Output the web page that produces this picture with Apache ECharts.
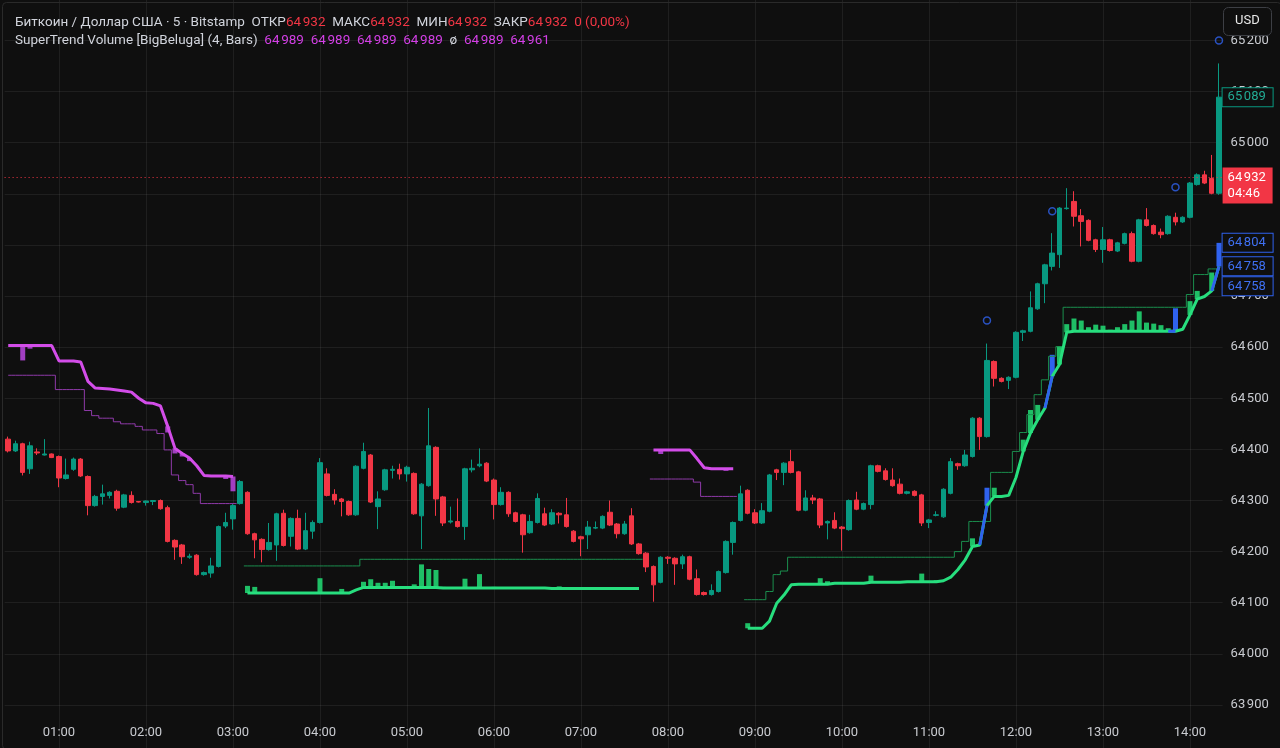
<!DOCTYPE html>
<html><head><meta charset="utf-8">
<script src="https://cdn.jsdelivr.net/npm/echarts@6/dist/echarts.min.js"></script>
<style>html,body{margin:0;padding:0;background:#0f0f0f;width:1280px;height:748px;overflow:hidden;position:relative;}
#c{position:absolute;left:0;top:-11px;width:1280px;height:780px;}</style>
</head><body><div id="c"></div><script>
// ---------- data ----------
const barCount = 168;            // 5-minute bars, first bar 00:25
const firstBarMinutes = 25;
const barMinutes = 5;
const priceTicks = { min: 63800, max: 65300, step: 100 };

const opens = [64420,64397,64411,64362,64395,64389,64391,64386,64343,64361,
64381,64347,64290,64308,64310,64318,64287,64310,64298,64296,
64298,64300,64286,64222,64213,64189,64193,64155,64158,64171,
64250,64264,64294,64316,64235,64224,64204,64213,64275,64230,
64265,64205,64240,64257,64352,64312,64303,64298,64272,64363,
64389,64288,64321,64359,64361,64352,64353,64270,64329,64404,
64307,64258,64259,64249,64360,64368,64373,64340,64292,64316,
64276,64272,64237,64257,64274,64254,64275,64272,64240,64229,
64233,64246,64246,64277,64254,64235,64270,64215,64197,64171,
64140,64189,64187,64176,64190,64147,64120,64116,64122,64159,
64218,64261,64320,64276,64256,64279,64360,64355,64376,64356,
64281,64305,64303,64256,64261,64248,64243,64301,64283,64292,
64368,64358,64340,64332,64314,64318,64311,64257,64271,64268,
64314,64372,64368,64386,64461,64425,64572,64539,64535,64541,
64629,64631,64675,64724,64758,64781,64871,64885,64857,64848,
64810,64791,64810,64788,64803,64822,64768,64849,64838,64825,
64822,64854,64845,64854,64918,64937,64930,64901];
const closes = [64397,64411,64355,64407,64393,64391,64384,64344,64350,64381,
64348,64290,64308,64313,64316,64285,64311,64296,64297,64299,
64300,64284,64220,64209,64190,64191,64155,64159,64172,64249,
64257,64290,64337,64235,64223,64204,64218,64274,64212,64265,
64205,64241,64257,64374,64310,64301,64298,64272,64367,64396,
64297,64303,64360,64361,64352,64365,64274,64332,64407,64303,
64256,64260,64249,64362,64363,64371,64338,64292,64316,64274,
64259,64233,64259,64304,64252,64276,64272,64249,64220,64225,
64248,64247,64269,64252,64235,64254,64215,64196,64170,64135,
64189,64187,64176,64190,64146,64116,64116,64124,64161,64220,
64257,64313,64275,64256,64280,64350,64355,64373,64355,64281,
64305,64301,64252,64259,64246,64245,64300,64283,64294,64368,
64357,64341,64329,64314,64317,64310,64256,64262,64272,64322,
64376,64368,64389,64461,64425,64574,64539,64533,64541,64629,
64632,64677,64724,64761,64784,64872,64872,64856,64846,64809,
64791,64810,64789,64804,64822,64768,64849,64838,64822,64820,
64856,64845,64854,64921,64937,64921,64901,65089];
const lows = [64394,64395,64349,64352,64389,64388,64383,64326,64341,64358,
64346,64271,64288,64292,64304,64280,64285,64294,64296,64290,
64291,64282,64218,64184,64176,64186,64153,64153,64149,64169,
64246,64243,64292,64233,64187,64179,64202,64182,64210,64210,
64203,64203,64225,64255,64308,64292,64269,64270,64270,64361,
64295,64244,64319,64343,64341,64337,64272,64205,64327,64270,
64250,64255,64247,64223,64355,64365,64336,64263,64290,64268,
64257,64198,64235,64255,64250,64252,64255,64247,64218,64191,
64205,64244,64244,64250,64226,64233,64213,64194,64160,64102,
64138,64176,64135,64166,64144,64114,64114,64114,64120,64157,
64194,64259,64273,64254,64254,64277,64340,64330,64353,64279,
64279,64293,64246,64224,64244,64202,64241,64281,64281,64283,
64355,64339,64327,64312,64312,64308,64250,64246,64269,64266,
64312,64360,64366,64384,64399,64423,64523,64531,64518,64539,
64612,64629,64673,64686,64750,64755,64869,64836,64797,64807,
64786,64765,64787,64786,64801,64766,64766,64836,64820,64813,
64820,64838,64843,64852,64916,64919,64899,64898];
const highs = [64425,64417,64413,64415,64402,64420,64392,64388,64382,64384,
64383,64349,64311,64331,64318,64321,64313,64318,64299,64300,
64301,64302,64290,64224,64215,64196,64195,64161,64188,64251,
64276,64293,64340,64318,64237,64226,64256,64276,64282,64267,
64282,64276,64261,64383,64363,64322,64305,64300,64369,64413,
64391,64318,64362,64368,64372,64368,64355,64334,64481,64406,
64309,64288,64304,64364,64380,64402,64375,64343,64326,64318,
64278,64274,64272,64314,64286,64283,64277,64305,64242,64231,
64260,64259,64271,64300,64256,64260,64285,64217,64199,64173,
64191,64191,64189,64194,64192,64165,64122,64136,64163,64222,
64259,64329,64322,64283,64295,64352,64362,64375,64399,64358,
64320,64311,64305,64261,64277,64250,64302,64317,64296,64370,
64370,64363,64363,64343,64319,64320,64313,64264,64279,64324,
64383,64374,64399,64463,64463,64607,64574,64541,64543,64631,
64634,64709,64726,64763,64823,64874,64911,64905,64870,64850,
64812,64835,64812,64806,64824,64826,64851,64872,64840,64832,
64858,64863,64856,64923,64940,64945,64976,65155];

// SuperTrend (bearish, purple): thick line + thin band, by segment [first bar number, values]
const bearLine1Start = 1;
const bearLine1 = [64603,64603,64603,64603,64603,64603,64603,64573,64573,64573,
64571,64533,64520,64519,64518,64516,64514,64512,64500,64491,
64490,64485,64445,64402,64392,64383,64368,64349,64348,64348,64348,64347];
const bearBand1 = [64545,64545,64545,64545,64545,64545,64545,64517,64517,64517,
64517,64476,64466,64461,64461,64454,64450,64450,64445,64438,
64438,64431,64399,64350,64339,64331,64314,64294,64294,64294,64294,64294];
const bearLine2Start = 90;
const bearLine2 = [64399,64399,64399,64399,64399,64399,64382,64364,64362,64362,64362,64362];
const bearBand2 = [64342,64342,64342,64342,64342,64342,64336,64308,64308,64308,64308,64308];

// SuperTrend (bullish, green)
const bullLine1Start = 34;
const bullLine1 = [64119,64119,64119,64119,64119,64119,64119,64119,64119,64119,64119,64119,64119,64119,64119,
64125,64130,64130,64130,64130,64130,64130,64130,64130,64130,64130,64130,
64129,64129,64129,64129,64129,64129,64129,64129,64129,64129,64129,64129,64129,64129,64129,
64128,64128,64128,64128,64128,64128,64128,64128,64128,64128,64128,64128,64128];
const bullBand1 = [64172,64172,64172,64172,64172,64172,64172,64172,64172,64172,64172,64172,64172,64172,64172,64172,
64185,64185,64185,64185,64185,64185,64185,64185,64185,64185,64185,64185,64185,64185,64185,64185,64185,64185,64185,64185,
64185,64185,64185,64185,64185,64185,64185,64185,64185,64185,64185,64185,64185,64185,64185,64185,64185,64185,64185];
const bullLine2Start = 103;
const bullLine2 = [64050,64050,64050,64064,64099,64115,64135,64136,
64136,64136,64136,64136,64138,64138,64138,64138,64138,64140,
64140,64140,64140,64140,64141,64141,64141,64141,64141,64143,
64150,64165,64184,64210,64213,64290,64308,64308,64310,64345,
64396,64432,64458,64481,64543,64566,64629,64631,64631,64631,
64631,64631,64631,64631,64631,64631,64631,64631,64631,64631,
64631,64631,64635,64663,64694,64699,64710,64758];
const bullBand2 = [64106,64106,64106,64122,64155,64162,64189,64189,
64189,64189,64189,64189,64189,64189,64189,64189,64189,64189,
64189,64189,64189,64189,64189,64189,64189,64189,64189,64189,
64189,64200,64220,64259,64259,64259,64355,64355,64355,64396,
64433,64468,64507,64536,64582,64601,64678,64678,64678,64678,
64678,64678,64678,64678,64678,64678,64678,64678,64678,64678,
64678,64678,64678,64703,64742,64742,64753,64753];

// volume bars drawn from the trend line: [bar number, size in price units]
const bullVolBars = [[34,14],[35,12],[42,2],[44,29],[45,2],[47,8],[50,11],[51,16],[52,9],[53,9],[54,13],[55,2],[56,2],[57,6],
[58,45],[59,36],[60,34],[61,2],[64,18],[66,27],[68,2],[77,4],
[103,10],[113,12],[114,6],[120,13],[127,16],[129,3],[134,16],[136,35],[137,17],[141,23],[142,45],[143,29],[145,42],[146,36],
[147,16],[148,25],[149,21],[150,8],[151,13],[152,11],[153,3],[154,8],[155,14],[156,21],[157,39],[158,17],[159,15],[160,12],
[161,6],[162,45],[164,27],[165,16],[167,36],[168,46]];
const bearVolBars = [[3,29],[4,6],[23,12],[24,10],[25,6],[26,6],[31,6],[32,29],[91,8],[100,4]];

// volume spikes (blue) and their circle markers
const spikeBars = [136, 145, 162, 168];
const spikeMarks = [64652, 64866, 64913, 65200];

// price tags on the right scale
const lastPrice = 64932;
const countdown = '04:46';
const tealTag = 65089;
const blueTags = [64804, 64758, 64758];

// legend values
const ohlcLegend = [64932, 64932, 64932, 64932];
const changeLegend = '0 (0,00%)';
const indicatorLegend = [64989, 64989, 64989, 64989, 64989, 64961];

// ---------- build ----------
const SHIFT = 11; // the chart canvas starts 11px above the page so the price scale can run past both edges
const times = [];
for (let i = 0; i < barCount; i++) {
  const m = firstBarMinutes + i * barMinutes;
  times.push(String(Math.floor(m / 60)).padStart(2, '0') + ':' + String(m % 60).padStart(2, '0'));
}
function place(segs) {
  const a = new Array(barCount).fill(null);
  segs.forEach(([start, vals]) => vals.forEach((v, k) => { a[start - 1 + k] = v; }));
  return a;
}
const bearLine = place([[bearLine1Start, bearLine1], [bearLine2Start, bearLine2]]);
const bearBand = place([[bearLine1Start, bearBand1], [bearLine2Start, bearBand2]]);
const bullLine = place([[bullLine1Start, bullLine1], [bullLine2Start, bullLine2]]);
const bullBand = place([[bullLine1Start, bullBand1], [bullLine2Start, bullBand2]]);

const blueLine = new Array(barCount).fill(null);
spikeBars.forEach(n => { blueLine[n - 2] = bullLine[n - 2]; blueLine[n - 1] = bullLine[n - 1]; });

const volBase = new Array(barCount).fill(null);
const volSize = new Array(barCount).fill(null);
const volKind = new Array(barCount).fill(null);
bullVolBars.forEach(([n, v]) => { volBase[n - 1] = bullLine[n - 1]; volSize[n - 1] = v; volKind[n - 1] = spikeBars.includes(n) ? 'spike' : 'bull'; });
bearVolBars.forEach(([n, v]) => { volBase[n - 1] = bearLine[n - 1] - v; volSize[n - 1] = v; volKind[n - 1] = 'bear'; });

const candles = opens.map((o, i) => [o, closes[i], lows[i], highs[i]]);
const fmt = v => { const s = String(Math.round(v)); return s.slice(0, s.length - 3) + '\u202F' + s.slice(-3); };

const C = {
  bg: '#0f0f0f', grid: 'rgba(255,255,255,0.065)', text: '#c9cbd0',
  up: '#089981', down: '#f23645',
  green: '#27de7e', greenThin: '#1b8f4e', greenBar: '#1fbf66',
  purple: '#d34de9', purpleThin: '#8f3aa9', purpleBar: '#a23fc2',
  blue: '#2f62ee', legendPurple: '#d33fe6'
};
const FONT = 'Roboto, "Noto Sans", sans-serif';

const legendText =
  '{g|Биткоин / Доллар США · 5 · Bitstamp}  ' +
  '{g|ОТКР}{r|' + fmt(ohlcLegend[0]) + '}  {g|МАКС}{r|' + fmt(ohlcLegend[1]) + '}  {g|МИН}{r|' + fmt(ohlcLegend[2]) +
  '}  {g|ЗАКР}{r|' + fmt(ohlcLegend[3]) + '}  {r|' + changeLegend + '}\n' +
  '{g|SuperTrend Volume [BigBeluga] (4, Bars)}  ' +
  indicatorLegend.slice(0, 4).map(v => '{p|' + fmt(v) + '}').join('  ') + '  {g|ø}  ' +
  indicatorLegend.slice(4).map(v => '{p|' + fmt(v) + '}').join('  ');

const tagLabel = (border, txtColor) => ({
  show: true, position: 'end', distance: 0, fontFamily: FONT, fontSize: 13,
  color: txtColor, backgroundColor: C.bg, borderColor: border, borderWidth: 1,
  padding: [3, 5, 2, 5], width: 40, align: 'left'
});
const noLine = { color: 'rgba(0,0,0,0)', width: 0 };
const markData = [
  { yAxis: lastPrice, lineStyle: { color: C.down, type: [1, 3], width: 1 },
    label: { show: true, position: 'end', distance: 0, fontFamily: FONT, fontSize: 13, lineHeight: 16,
      color: '#ffffff', backgroundColor: C.down, padding: [2, 5, 2, 5], width: 40, align: 'left',
      offset: [0, 8], formatter: fmt(lastPrice) + '\n' + countdown } },
  { yAxis: tealTag, lineStyle: noLine, label: Object.assign(tagLabel(C.up, '#22ab94'), { formatter: fmt(tealTag) }) },
  { yAxis: blueTags[0], lineStyle: noLine, label: Object.assign(tagLabel(C.blue, '#3f70f2'), { formatter: fmt(blueTags[0]) }) },
  { yAxis: blueTags[1], lineStyle: noLine, label: Object.assign(tagLabel(C.blue, '#3f70f2'), { formatter: fmt(blueTags[1]) }) },
  { yAxis: blueTags[2], lineStyle: noLine, label: Object.assign(tagLabel(C.blue, '#3f70f2'), { formatter: fmt(blueTags[2]), offset: [0, 20] }) }
];

const isHour = (idx, val) => typeof val === 'string' ? val.endsWith(':00') : times[idx].endsWith(':00');
const gridPos = { left: 4.6, right: 57.4 };
const legendStyle = c => ({ color: c, fontFamily: FONT, fontSize: 13.5, fontWeight: 'normal', lineHeight: 18 });

const option = {
  backgroundColor: C.bg,
  animation: false,
  title: {
    left: 10, top: 9 + SHIFT, text: legendText,
    textStyle: { fontFamily: FONT, fontSize: 13.5, fontWeight: 'normal', lineHeight: 18,
      rich: { g: legendStyle('#d1d4dc'), r: legendStyle(C.down), p: legendStyle(C.legendPurple) } }
  },
  grid: [
    Object.assign({ top: 0.3, height: 766.8 }, gridPos),
    Object.assign({ top: 719 + SHIFT, height: 1 }, gridPos)
  ],
  xAxis: [
    { type: 'category', data: times, gridIndex: 0, boundaryGap: true,
      axisLine: { show: false }, axisTick: { show: false }, axisLabel: { show: false },
      splitLine: { show: true, interval: isHour, alignWithLabel: true, lineStyle: { color: C.grid, width: 1 } } },
    { type: 'category', data: times, gridIndex: 1, boundaryGap: true,
      axisLine: { show: false }, axisTick: { show: false }, splitLine: { show: false },
      axisLabel: { interval: isHour, color: C.text, fontFamily: FONT, fontSize: 13, margin: 6 } }
  ],
  yAxis: [
    { type: 'value', gridIndex: 0, position: 'right', min: priceTicks.min, max: priceTicks.max, interval: priceTicks.step,
      axisLine: { show: false }, axisTick: { show: false },
      axisLabel: { color: C.text, fontFamily: FONT, fontSize: 13, margin: 8, showMinLabel: false, showMaxLabel: false, formatter: fmt },
      splitLine: { show: true, lineStyle: { color: C.grid, width: 1 } } },
    { type: 'value', gridIndex: 1, show: false }
  ],
  series: [
    { name: 'volBase', type: 'bar', stack: 'vol', data: volBase, barWidth: 5, silent: true,
      itemStyle: { color: 'rgba(0,0,0,0)' }, z: 1 },
    { name: 'vol', type: 'bar', stack: 'vol', data: volSize, barWidth: 5, silent: true, z: 1,
      itemStyle: { color: p => volKind[p.dataIndex] === 'bear' ? C.purpleBar : volKind[p.dataIndex] === 'spike' ? C.blue : C.greenBar } },
    { name: 'bearBand', type: 'line', data: bearBand, step: 'middle', showSymbol: false, silent: true, z: 2,
      lineStyle: { color: C.purpleThin, width: 1 } },
    { name: 'bullBand', type: 'line', data: bullBand, step: 'middle', showSymbol: false, silent: true, z: 2,
      lineStyle: { color: C.greenThin, width: 1 } },
    { name: 'bearLine', type: 'line', data: bearLine, showSymbol: false, silent: true, z: 3,
      lineStyle: { color: C.purple, width: 3 } },
    { name: 'bullLine', type: 'line', data: bullLine, showSymbol: false, silent: true, z: 3,
      lineStyle: { color: C.green, width: 3 } },
    { name: 'spikeLine', type: 'line', data: blueLine, showSymbol: false, silent: true, z: 3,
      lineStyle: { color: C.blue, width: 3 } },
    { name: 'price', type: 'candlestick', data: candles, barWidth: 5, z: 4, silent: true,
      itemStyle: { color: C.up, color0: C.down, borderColor: C.up, borderColor0: C.down, borderWidth: 1 },
      markLine: { silent: true, symbol: ['none', 'none'], animation: false, data: markData } },
    { name: 'spikeMarks', type: 'scatter', z: 5, silent: true, symbol: 'circle', symbolSize: 7,
      data: spikeBars.map((n, k) => [n - 1, spikeMarks[k]]),
      itemStyle: { color: 'rgba(0,0,0,0)', borderColor: C.blue, borderWidth: 1.5 } }
  ],
  graphic: [
    { type: 'rect', left: 1223, top: 7 + SHIFT, shape: { width: 48, height: 28, r: 5 }, z: 100,
      style: { fill: C.bg, stroke: '#3d3f45', lineWidth: 1 } },
    { type: 'text', left: 1235, top: 14 + SHIFT, z: 101,
      style: { text: 'USD', fill: '#e8e8e8', font: '13px ' + FONT } },
    { type: 'rect', left: 0, top: SHIFT, shape: { width: 1279, height: 747, r: 4 }, z: 99, silent: true,
      style: { fill: 'none', stroke: '#2a2a2a', lineWidth: 1 } }
  ]
};
const chart = echarts.init(document.getElementById('c'), null, { renderer: 'canvas' });
chart.setOption(option);
</script></body></html>
